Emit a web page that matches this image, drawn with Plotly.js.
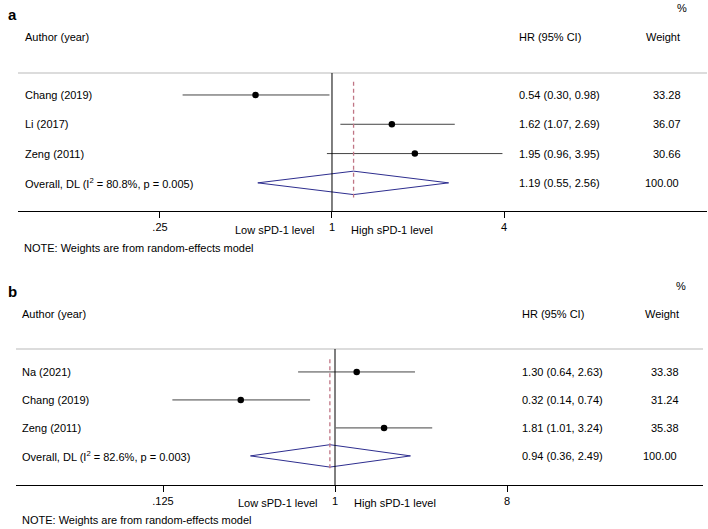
<!DOCTYPE html>
<html>
<head>
<meta charset="utf-8">
<script src="https://cdn.plot.ly/plotly-3.0.1.min.js"></script>
<style>html,body{margin:0;padding:0;background:#fff;}#chart{width:708px;height:529px;}</style>
</head>
<body>
<div id="chart"></div>
<script>
// ---- Panel a data ----
const studiesA = ["Chang (2019)", "Li (2017)", "Zeng (2011)"];
const hrA = [0.54, 1.62, 1.95];
const loA = [0.30, 1.07, 0.96];
const hiA = [0.98, 2.69, 3.95];
const weightA = [33.28, 36.07, 30.66];
const overallA = {label: "Overall, DL (I<sup>2</sup> = 80.8%, p = 0.005)", hr: 1.19, lo: 0.55, hi: 2.56, weight: 100.00};
const ticksA = [0.25, 1, 4];
const tickTextA = [".25", "1", "4"];

// ---- Panel b data ----
const studiesB = ["Na (2021)", "Chang (2019)", "Zeng (2011)"];
const hrB = [1.30, 0.32, 1.81];
const loB = [0.64, 0.14, 1.01];
const hiB = [2.63, 0.74, 3.24];
const weightB = [33.38, 31.24, 35.38];
const overallB = {label: "Overall, DL (I<sup>2</sup> = 82.6%, p = 0.003)", hr: 0.94, lo: 0.36, hi: 2.49, weight: 100.00};
const ticksB = [0.125, 1, 8];
const tickTextB = [".125", "1", "8"];

const FONT = "Liberation Sans, Arial, sans-serif";
const H = 529;
const P = px => 1 - px / H;

function panel(studies, hr, lo, hi, weight, overall, xa, ya, geo) {
  const traces = [];
  const lx = [], ly = [];
  studies.forEach((s, i) => { lx.push(lo[i], hi[i], null); ly.push(i, i, null); });
  traces.push({x: lx, y: ly, xaxis: xa, yaxis: ya, mode: "lines", type: "scatter",
    line: {color: "#444", width: 1}, hoverinfo: "skip", showlegend: false});
  traces.push({x: hr, y: studies.map((s, i) => i), xaxis: xa, yaxis: ya, mode: "markers", type: "scatter",
    marker: {color: "#000", size: 6.5, symbol: "circle"}, showlegend: false});
  const r = studies.length, h = 0.4;
  traces.push({x: [overall.lo, overall.hr, overall.hi, overall.hr, overall.lo],
    y: [r, r - h, r, r + h, r], xaxis: xa, yaxis: ya, mode: "lines", type: "scatter",
    line: {color: "#2e2e8f", width: 1}, showlegend: false});
  traces.push({x: [overall.hr, overall.hr], y: [-0.45, r + 0.5], xaxis: xa, yaxis: ya, mode: "lines", type: "scatter",
    line: {color: "#c07585", width: 1.3, dash: "4px,3px"}, showlegend: false});

  const ann = [];
  const yr = ya === "y" ? "y" : "y2";
  const t = (x, y, text, anchor, extra) => Object.assign({xref: "paper", yref: yr, x: x / 708, y: y, text: text,
    showarrow: false, xanchor: anchor, yanchor: "middle", font: {family: FONT, size: 11, color: "#000"}}, extra || {});
  studies.forEach((s, i) => {
    ann.push(t(geo.nameX, i, s, "left"));
    ann.push(t(geo.hrX, i, hr[i].toFixed(2) + " (" + lo[i].toFixed(2) + ", " + hi[i].toFixed(2) + ")", "left"));
    ann.push(t(geo.wX, i, weight[i].toFixed(2), "right"));
  });
  ann.push(t(geo.nameX, r, overall.label, "left"));
  ann.push(t(geo.hrX, r, overall.hr.toFixed(2) + " (" + overall.lo.toFixed(2) + ", " + overall.hi.toFixed(2) + ")", "left"));
  ann.push(t(geo.wX - 2, r, overall.weight.toFixed(2), "right"));
  const pt = (x, y, text, anchor, extra) => Object.assign({xref: "paper", yref: "paper", x: x / 708, y: P(y), text: text,
    showarrow: false, xanchor: anchor, yanchor: "middle", font: {family: FONT, size: 11, color: "#000"}}, extra || {});
  ann.push(pt(geo.letterX, geo.letterY, "<b>" + geo.letter + "</b>", "left", {font: {family: FONT, size: 15, color: "#000"}}));
  ann.push(pt(geo.pctX, geo.pctY, "%", "right", {font: {family: FONT, size: 11, color: "#000000"}}));
  ann.push(pt(geo.nameX, geo.headY, "Author (year)", "left"));
  ann.push(pt(geo.hrHX, geo.headY, "HR (95% CI)", "left"));
  ann.push(pt(geo.weightHX, geo.headY, "Weight", "center"));
  ann.push(pt(geo.noteX, geo.noteY, "NOTE: Weights are from random-effects model", "left"));
  ann.push({xref: xa, yref: "paper", x: 0, y: P(geo.tickY), text: "Low sPD-1 level", showarrow: false,
    xanchor: "right", yanchor: "middle", xshift: -16, font: {family: FONT, size: 11, color: "#000"}});
  ann.push({xref: xa, yref: "paper", x: 0, y: P(geo.tickY), text: "High sPD-1 level", showarrow: false,
    xanchor: "left", yanchor: "middle", xshift: 17, font: {family: FONT, size: 11, color: "#000"}});
  const shapes = [
    {type: "line", xref: "paper", yref: "paper", x0: geo.x0 / 708, x1: geo.x1 / 708, y0: P(geo.sepY), y1: P(geo.sepY),
      line: {color: "#d0d0d0", width: 1.5}},
    {type: "line", xref: xa, yref: (ya === "y" ? "y" : "y2") + " domain", x0: 1, x1: 1, y0: 0, y1: 1,
      line: {color: "#000", width: 1}}
  ];
  return {traces, ann, shapes};
}

const A = panel(studiesA, hrA, loA, hiA, weightA, overallA, "x", "y",
  {nameX: 23, hrX: 517, wX: 683, letter: "a", letterX: 6, letterY: 14, pctX: 689, pctY: 8, headY: 37,
   hrHX: 517, weightHX: 663, noteX: 22, noteY: 248, tickY: 230, sepY: 73, x0: 18, x1: 707});
const B = panel(studiesB, hrB, loB, hiB, weightB, overallB, "x2", "y2",
  {nameX: 20, hrX: 520, wX: 681, letter: "b", letterX: 6, letterY: 291, pctX: 688, pctY: 286, headY: 314,
   hrHX: 520, weightHX: 662, noteX: 20, noteY: 520, tickY: 503, sepY: 349, x0: 16, x1: 703});

const axisCommon = {type: "log", showgrid: false, zeroline: false, showline: true, linecolor: "#000", linewidth: 1,
  ticks: "outside", ticklen: 6, tickcolor: "#000", tickwidth: 1, tickfont: {family: FONT, size: 11, color: "#000"}};

const layout = {
  width: 708, height: 529, margin: {l: 0, r: 0, t: 0, b: 0},
  paper_bgcolor: "#fff", plot_bgcolor: "#fff", showlegend: false,
  xaxis: Object.assign({}, axisCommon, {domain: [18 / 708, 707 / 708], range: [-1.0990, 1.3126],
    tickvals: ticksA, ticktext: tickTextA, anchor: "y"}),
  yaxis: {domain: [P(211), P(73)], range: [3.96, -0.75], visible: false, anchor: "x", fixedrange: true},
  xaxis2: Object.assign({}, axisCommon, {domain: [16 / 708, 703 / 708], range: [-1.6749, 1.9322],
    tickvals: ticksB, ticktext: tickTextB, anchor: "y2"}),
  yaxis2: {domain: [P(485), P(349)], range: [4.04, -0.82], visible: false, anchor: "x2", fixedrange: true},
  annotations: A.ann.concat(B.ann),
  shapes: A.shapes.concat(B.shapes)
};

Plotly.newPlot("chart", A.traces.concat(B.traces), layout, {displayModeBar: false, staticPlot: true});
</script>
</body>
</html>
